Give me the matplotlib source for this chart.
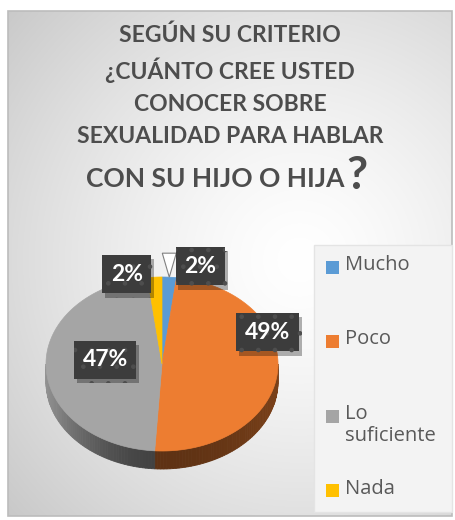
import numpy as np
import matplotlib.pyplot as plt
from matplotlib.patches import Polygon, Rectangle
from matplotlib import patheffects as pe
from matplotlib.colors import to_rgb

# Data
categories = ['Mucho', 'Poco', 'Lo suficiente', 'Nada']
legend_labels = ['Mucho', 'Poco', 'Lo\nsuficiente', 'Nada']
percent = [2, 49, 47, 2]
pct_labels = ['2%', '49%', '47%', '2%']
colors = ['#5b9bd5', '#ed7d31', '#a5a5a5', '#ffc000']
title_lines = ['SEGÚN SU CRITERIO', '¿CUÁNTO CREE USTED', 'CONOCER SOBRE',
               'SEXUALIDAD PARA HABLAR']
title_last = 'CON SU HIJO O HIJA'

plt.rcParams['font.family'] = ['Open Sans', 'DejaVu Sans']
plt.rcParams['hatch.linewidth'] = 0.9
BOLD = ['Lato', 'DejaVu Sans']

W, H = 455, 520
fig = plt.figure(figsize=(W / 100, H / 100), dpi=100)
ax = fig.add_axes([0, 0, 1, 1])
ax.set_xlim(0, W)
ax.set_ylim(H, 0)
ax.axis('off')

# Chart area with radial gradient
x0, y0, x1, y1 = 8, 11, 452, 516
gx, gy = np.meshgrid(np.linspace(x0, x1, 300), np.linspace(y0, y1, 300))
d = np.hypot(gx - 300, gy - 260) / 384.0
v = 1.0 - 0.21 * np.clip(d, 0, 1.1) ** 1.4
ax.imshow(np.dstack([v, v, v]), extent=(x0, x1, y1, y0), zorder=0,
          interpolation='bilinear', aspect='auto')
ax.add_patch(Rectangle((x0, y0), x1 - x0, y1 - y0, fill=False,
                       ec='#bcbcbc', lw=1.2, zorder=1))

# 3D pie geometry
cx, cy, rx, ry, depth = 162, 364, 116, 87, 18


def rim(t_deg, f=1.0):
    t = np.radians(t_deg)
    return cx + rx * f * np.sin(t), cy - ry * f * np.cos(t)


bounds = np.concatenate([[0], np.cumsum(percent)]) * 3.6
side_k = [(0.45, 0.1), (0.40, 0.12), (0.40, 0.48), (0.5, 0.2)]

# side walls (front half only)
for i in range(len(percent)):
    a0, a1 = max(bounds[i], 90), min(bounds[i + 1], 270)
    if a1 <= a0:
        continue
    steps = np.linspace(a0, a1, max(2, int((a1 - a0) / 1.5) + 1))
    base = np.array(to_rgb(colors[i]))
    for s0, s1 in zip(steps[:-1], steps[1:]):
        k = side_k[i][0] + side_k[i][1] * abs(np.sin(np.radians((s0 + s1) / 2))) ** 2
        c = np.clip(base * k, 0, 1)
        xa, ya = rim(s0)
        xb, yb = rim(s1)
        ax.add_patch(Polygon([(xa, ya), (xb, yb), (xb, yb + depth), (xa, ya + depth)],
                             closed=True, fc=c, ec=c, lw=0.6, zorder=2))

# top faces
for i in range(len(percent)):
    ts = np.linspace(bounds[i], bounds[i + 1], max(3, int(percent[i] * 3)))
    pts = [(cx, cy)] + [rim(t) for t in ts]
    ax.add_patch(Polygon(pts, closed=True, fc=colors[i], ec=colors[i], lw=0.5, zorder=3))

# data labels
label_off = [(31, -12), (-10, -41), (59, -8), (-28, -4)]
for i, lab in enumerate(pct_labels):
    mid = (bounds[i] + bounds[i + 1]) / 2
    px, py = rim(mid)
    lx, ly = px + label_off[i][0], py + label_off[i][1]
    if i == 0:
        # callout pointer
        ax.add_patch(Polygon([(lx - 38, ly - 12), (lx - 24, ly - 12), (px, py)],
                             closed=True, fc='white', ec='#808080', lw=0.8, zorder=4))
    t = ax.text(lx, ly + 1, lab, ha='center', va='center', fontsize=16.5,
                fontweight='bold', family=BOLD, color='white', zorder=5,
                bbox=dict(boxstyle='square,pad=0.38', fc='#3c3c3c', ec='#4e4e4e',
                          lw=0, hatch='.'))
    t.get_bbox_patch().set_path_effects(
        [pe.SimplePatchShadow(offset=(2, -3), shadow_rgbFace='black', alpha=0.3), pe.Normal()])

# legend
lg_x, lg_y = 314, 245
ax.add_patch(Rectangle((lg_x, lg_y), x1 - lg_x, 512 - lg_y, fc='#f3f3f3',
                       ec='#e4e4e4', lw=1, zorder=2))
for i, lab in enumerate(legend_labels):
    row = lg_y + 22 + i * 74.5
    ax.add_patch(Rectangle((lg_x + 12, row - 6.5), 13, 13, fc=colors[i], ec='none', zorder=3))
    ax.text(lg_x + 31, row - 12, lab, ha='left', va='top', fontsize=14.5,
            color='#595959', linespacing=1.15, zorder=3)

# title
title_y = [42, 79, 111, 143]
for line, yb in zip(title_lines, title_y):
    ax.text(230, yb, line, ha='center', va='baseline', fontsize=16.5,
            fontweight='bold', family=BOLD, color='#4d4d4d', zorder=3)
ax.text(344, 187, title_last, ha='right', va='baseline', fontsize=19,
        fontweight='bold', family=BOLD, color='#4d4d4d', zorder=3)
ax.text(346, 189, '?', ha='left', va='baseline', fontsize=33,
        fontweight='bold', family=BOLD, color='#4d4d4d', zorder=3)

fig.savefig('out.png', dpi=100)
